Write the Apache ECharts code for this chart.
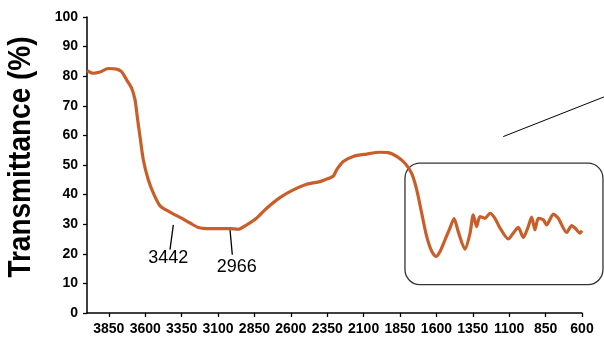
<!DOCTYPE html>
<html>
<head>
<meta charset="utf-8">
<script src="https://cdn.jsdelivr.net/npm/echarts@6/dist/echarts.min.js"></script>
<style>
html,body{margin:0;padding:0;background:#fff;}
#chart{width:604px;height:343px;}
</style>
</head>
<body>
<div id="chart"></div>
<script>
// Wavenumber (cm-1) and transmittance (%)
var wavenumbers = [4000,3957,3911,3854,3796,3762,3727,3693,3670,3655,
  3636,3613,3579,3544,3498,3430,3361,3292,3235,3155,
  3087,3018,2961,2903,2834,2766,2675,2583,2491,2400,
  2365,2308,2285,2240,2171,2079,1988,1931,1873,1816,
  1770,1735,1701,1667,1632,1603,1575,1541,1507,1479,
  1450,1404,1369,1347,1324,1301,1266,1232,1198,1163,
  1106,1072,1038,1003,969,946,923,900,866,843,
  797,763,705,671,648,614,600];
var transmittance = [81.9,81.0,81.4,82.6,82.4,81.5,78.7,75.9,72,66.4,
  59.6,51.7,45,40.5,36.2,34.1,32.3,30.4,28.9,28.5,
  28.5,28.5,28.3,29.8,32.1,35.4,39,41.6,43.5,44.4,
  45,46.3,48.4,51.2,52.9,53.7,54.3,54.2,52.9,50.6,
  47.2,41.6,33.7,25.9,20.8,19.1,20.8,24.7,28.7,31.9,
  27.5,21.6,27,33.2,29.2,32.6,32,33.7,32,28.7,
  25,27,28.9,25.5,29.2,32.4,28.1,32,31.5,29.8,
  33.4,32,27.2,29.5,28.7,27,27.8];

// Axis settings
var xMin = 600, xMax = 4000, xStep = 250;
var yMin = 0, yMax = 100, yStep = 10;
var yTitle = 'Transmittance (%)';

// Peak annotations (labels and anchor points in data space)
var peakLabels = ['3442', '2966'];
var peakLineStart = [[3407, 29.8], [3018, 28.3]];
var peakLineEnd = [[3430, 21.4], [3002, 19.7]];
var peakTextPos = [[3442, 18.6], [2972, 15.5]];

// Highlight box (data space corners) and pointer line
var boxTopLeft = [1816, 50.6];
var boxBottomRight = [456, 9.6];
var pointerStart = [1141, 59.6];
var pointerEnd = [449, 73.0];

var pts = wavenumbers.map(function (w, i) { return [w, transmittance[i]]; });

var chart = echarts.init(document.getElementById('chart'));

chart.setOption({
  animation: false,
  grid: {left: 87, right: 22, top: 17, bottom: 30},
  xAxis: {
    type: 'value', inverse: true, min: xMin, max: xMax, interval: xStep,
    axisLine: {show: true, lineStyle: {color: '#000', width: 1.5}},
    axisTick: {show: true, length: 4, lineStyle: {color: '#000', width: 1.3}},
    splitLine: {show: false},
    axisLabel: {showMaxLabel: false, color: '#000', fontWeight: 'bolder', fontSize: 14,
      fontFamily: 'Arial', margin: 9, formatter: function (v) { return String(v); }}
  },
  yAxis: {
    type: 'value', min: yMin, max: yMax, interval: yStep,
    axisLine: {show: true, lineStyle: {color: '#000', width: 1.5}},
    axisTick: {show: true, length: 4, lineStyle: {color: '#000', width: 1.3}},
    splitLine: {show: false},
    axisLabel: {color: '#000', fontWeight: 'bolder', fontSize: 14, fontFamily: 'Arial', margin: 9,
      formatter: function (v) { return String(v); }}
  },
  series: [{
    type: 'line', data: pts, showSymbol: false, smooth: 0.25,
    lineStyle: {color: '#C85E2A', width: 3.2}
  }]
});

function px(p) { return chart.convertToPixel({xAxisIndex: 0, yAxisIndex: 0}, p); }

var g = [];
g.push({
  type: 'text', x: 22, y: 157, rotation: Math.PI / 2, scaleY: 1.1,
  style: {text: yTitle, font: 'bold 28px "Liberation Sans", Arial, sans-serif', fill: '#000',
    textAlign: 'center', textVerticalAlign: 'middle'}
});
for (var i = 0; i < peakLabels.length; i++) {
  var a = px(peakLineStart[i]), b = px(peakLineEnd[i]), t = px(peakTextPos[i]);
  g.push({type: 'line', shape: {x1: a[0], y1: a[1], x2: b[0], y2: b[1]},
    style: {stroke: '#000', lineWidth: 1.3}});
  g.push({type: 'text', x: t[0], y: t[1],
    style: {text: peakLabels[i], font: '18px "Liberation Sans", Arial, sans-serif', fill: '#000',
      textAlign: 'center', textVerticalAlign: 'middle'}});
}
var tl = px(boxTopLeft), br = px(boxBottomRight);
g.push({type: 'rect', shape: {x: tl[0], y: tl[1], width: br[0] - tl[0], height: br[1] - tl[1], r: 15},
  style: {fill: 'none', stroke: '#333', lineWidth: 1.3}});
var ps = px(pointerStart), pe = px(pointerEnd);
g.push({type: 'line', shape: {x1: ps[0], y1: ps[1], x2: pe[0], y2: pe[1]},
  style: {stroke: '#000', lineWidth: 1}});
chart.setOption({graphic: g});
</script>
</body>
</html>
